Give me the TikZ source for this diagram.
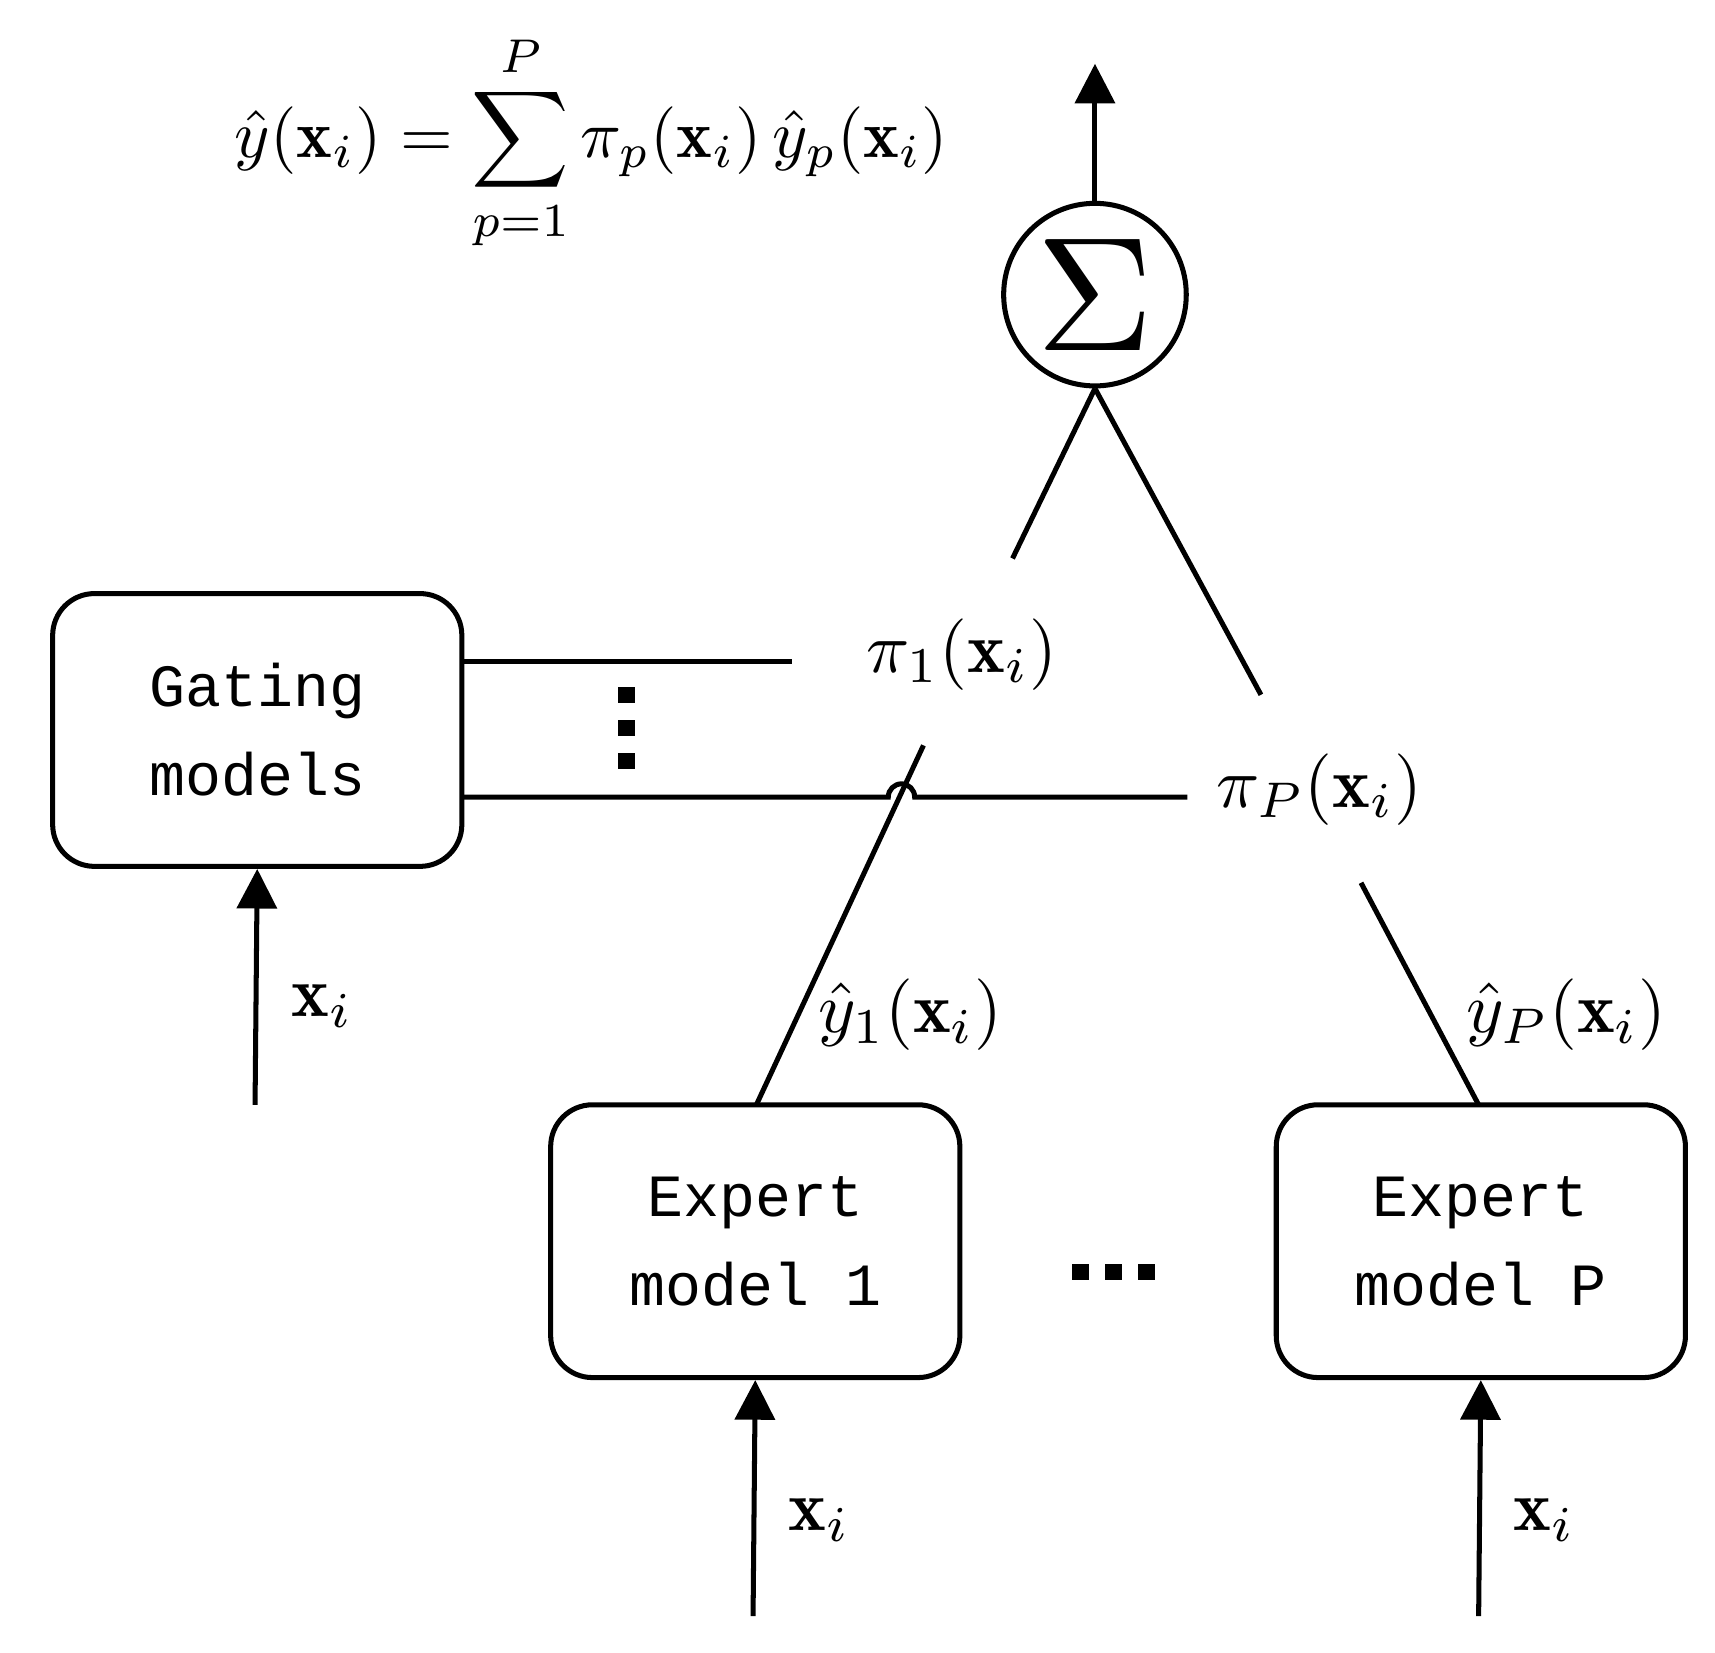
\documentclass[tikz,border=0pt]{standalone}
\usepackage{fontspec}
\newfontfamily\monof{Liberation Mono}
\usetikzlibrary{arrows.meta}
\begin{document}
\begin{tikzpicture}[x=0.01cm,y=-0.01cm,line width=1.3pt,
  box/.style={draw,rounded corners=0.38cm,minimum width=3.72cm,minimum height=2.48cm,font=\fontsize{15.5}{23}\selectfont\monof,align=center},
  lab/.style={scale=1.85},
  arr/.style={-{Triangle[length=0.36cm,width=0.36cm]}},
  dot/.style={fill,minimum size=0.15cm,inner sep=0pt}]
\useasboundingbox (0,0) rectangle (1560,1503);
\node[draw,circle,minimum size=1.66cm,inner sep=0pt] (sum) at (996,268) {};
\node[scale=4.2] (sig) at (sum.center) {$\Sigma$};
\coordinate (out) at (996,58);
\draw[arr] (sum.north) -- (out);
\node[scale=1.75] (f) at (538,130) {$\hat y(\mathbf{x}_i)=\displaystyle\sum_{p=1}^{P}\pi_p(\mathbf{x}_i)\,\hat y_p(\mathbf{x}_i)$};
\node[box] (g) at (234,664) {Gating\\models};
\node[box] (e1) at (687,1129) {Expert\\model 1};
\node[box] (eP) at (1347,1129) {Expert\\model P};
\node[lab] (p1) at (875,595) {$\pi_1(\mathbf{x}_i)$};
\node[lab] (pP) at (1200,718) {$\pi_P(\mathbf{x}_i)$};
\node[lab] (y1) at (828,923) {$\hat y_1(\mathbf{x}_i)$};
\node[lab] (yP) at (1425,923) {$\hat y_P(\mathbf{x}_i)$};
\coordinate (a1) at (720,602);
\draw (420,602) -- (a1);
\draw (420,725) -- (808,725) arc (180:360:12) -- (1080,725);
\draw (sum.south) -- (921,508);
\draw (sum.south) -- (1147,632);
\draw (840,678) -- (688,1005);
\draw (1238,803) -- (1345,1005);
\foreach \y [count=\i] in {632,662,692} \node[dot] (vd\i) at (570,\y) {};
\foreach \x [count=\i] in {983,1013,1043} \node[dot] (hd\i) at (\x,1157) {};
\coordinate (ig) at (232,1005);
\coordinate (i1) at (685,1470);
\coordinate (iP) at (1345,1470);
\draw[arr] (ig) -- (g.south);
\draw[arr] (i1) -- (e1.south);
\draw[arr] (iP) -- (eP.south);
\node[lab] (xg) at (293,915) {$\mathbf{x}_i$};
\node[lab] (x1) at (745,1383) {$\mathbf{x}_i$};
\node[lab] (xP) at (1405,1383) {$\mathbf{x}_i$};
\end{tikzpicture}
\end{document}
